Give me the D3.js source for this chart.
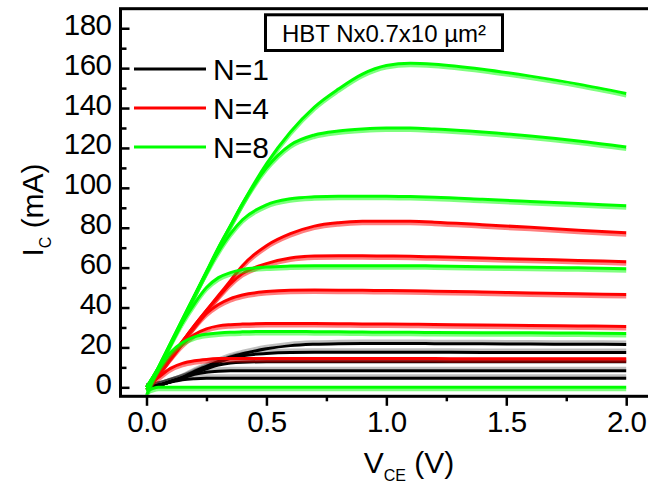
<!DOCTYPE html>
<html><head><meta charset="utf-8">
<script src="https://cdn.jsdelivr.net/npm/d3@7/dist/d3.min.js"></script>
<style>body{margin:0;background:#fff}svg{display:block}</style>
</head><body><svg id="c" width="648" height="483"></svg>
<script>
// ---- data ----
const vce = [0, 0.05, 0.1, 0.15, 0.2, 0.25, 0.3, 0.35, 0.4, 0.5, 0.6, 0.7, 0.8, 0.9, 1.0, 1.1, 1.2, 1.4, 1.6, 1.8, 2.0];

const icN1 = [
  [0, 1, 2.6, 3.8, 4.3, 4.5, 4.5, 4.5, 4.5, 4.5, 4.5, 4.5, 4.5, 4.5, 4.5, 4.5, 4.5, 4.5, 4.5, 4.5, 4.5],
  [0, 1, 2.8, 4.6, 6.5, 7.6, 8.1, 8.3, 8.3, 8.3, 8.3, 8.3, 8.3, 8.3, 8.3, 8.3, 8.3, 8.3, 8.3, 8.3, 8.3],
  [0, 1, 2.8, 4.8, 7, 9.3, 11.2, 12.2, 12.6, 12.8, 12.8, 12.8, 12.8, 12.8, 12.8, 12.8, 12.8, 12.8, 12.8, 12.8, 12.8],
  [0, 1, 2.8, 4.8, 7.5, 10, 12.5, 14.5, 15.8, 17, 17.5, 17.6, 17.6, 17.6, 17.6, 17.6, 17.6, 17.5, 17.5, 17.5, 17.5],
  [0, 1, 2.8, 5, 8, 10.5, 13, 15.2, 16.8, 19.3, 20.9, 21.6, 21.9, 22, 22, 22, 21.9, 21.8, 21.7, 21.6, 21.5]
];
const icN4 = [
  [0, 5, 9.5, 12, 13.3, 14, 14.4, 14.5, 14.5, 14.5, 14.5, 14.5, 14.4, 14.4, 14.4, 14.4, 14.4, 14.3, 14.3, 14.3, 14.3],
  [0, 7, 14.5, 21.5, 26.5, 29.3, 30.8, 31.4, 31.7, 32, 32, 32, 31.9, 31.8, 31.7, 31.6, 31.5, 31.2, 31, 30.8, 30.5],
  [0, 7, 15, 23, 30.5, 37, 41.5, 44.5, 46.3, 48, 48.7, 48.8, 48.7, 48.6, 48.5, 48.4, 48.2, 47.8, 47.3, 46.9, 46.5],
  [0, 7, 15, 23, 31, 38.5, 45.5, 52, 57, 62, 64.8, 65.8, 66, 66, 65.8, 65.7, 65.4, 64.8, 64.2, 63.6, 63],
  [0, 7, 15, 23, 31, 38.5, 46, 53.5, 61, 71, 77, 80.8, 82.5, 83.2, 83.3, 83.2, 82.8, 81.5, 80.2, 78.8, 77.5]
];
const icN8 = [
  [-2, 0, 0, 0, 0, 0, 0, 0, 0, 0, 0, 0, 0, 0, 0, 0, 0, 0, 0, 0, 0],
  [0, 9, 17.5, 22.5, 25.3, 26.6, 27.2, 27.6, 27.8, 28, 28, 27.9, 27.8, 27.7, 27.6, 27.6, 27.5, 27.4, 27.3, 27.2, 27],
  [0, 10, 21.5, 32.5, 42, 50, 55, 57.5, 59, 60.3, 60.8, 61, 61, 61, 61, 61, 60.8, 60.5, 60.2, 59.9, 59.5],
  [0, 10, 22, 34, 46, 57.5, 68, 77, 84, 91.5, 94.5, 95.5, 95.8, 95.8, 95.8, 95.6, 95.3, 94.3, 93.2, 92.1, 91],
  [0, 10, 22, 34, 46, 58, 70, 81, 92, 110, 121.5, 126.5, 128.5, 129.5, 130, 130, 129.5, 128, 126, 123.5, 120.5],
  [-4, 10, 22, 34, 46, 58, 70, 81, 92, 112, 128, 140.5, 149.5, 157, 161.3, 162.5, 162, 159.5, 156, 152, 147.3]
];

const seriesNames = ["N=1", "N=4", "N=8"];
const seriesColors = ["#000000", "#ff0000", "#00ff00"];
const xTicks = [0, 0.5, 1.0, 1.5, 2.0];
const xMinorTicks = [0.25, 0.75, 1.25, 1.75];
const yTicks = [0, 20, 40, 60, 80, 100, 120, 140, 160, 180];
const yMinorTicks = [10, 30, 50, 70, 90, 110, 130, 150, 170];
const titleText = "HBT Nx0.7x10 µm²";

// ---- layout ----
const svg = d3.select("#c");
const FONT = "'Liberation Sans', Arial, Helvetica, sans-serif";
const L = 120.5, T = 8.7, B = 396.3, R = 655;
const x = d3.scaleLinear().domain([-0.1084, 2.12]).range([L, R]);
const y = d3.scaleLinear().domain([-4.5, 189.8]).range([B, T]);

const clipId = "plotclip";
svg.append("clipPath").attr("id", clipId).append("rect")
  .attr("x", L + 1.5).attr("y", T + 1.5).attr("width", R - L).attr("height", B - T - 3);

const plot = svg.append("g").attr("clip-path", `url(#${clipId})`);
const line = d3.line().x(d => x(d[0])).y(d => y(d[1])).curve(d3.curveMonotoneX);

const groups = [icN1, icN4, icN8];
groups.forEach((curves, gi) => {
  const col = seriesColors[gi];
  const g = plot.append("g");
  curves.forEach(vals => {
    const pts = vce.map((v, i) => [v, vals[i]]);
    g.append("path").attr("d", line(pts))
      .attr("fill", "none").attr("stroke", col)
      .attr("stroke-opacity", gi === 0 ? 0.25 : 0.5)
      .attr("stroke-width", 3)
      .attr("transform", `translate(0,${gi === 0 ? -2.5 : 2.5})`);
  });
  curves.forEach(vals => {
    const pts = vce.map((v, i) => [v, vals[i]]);
    g.append("path").attr("d", line(pts))
      .attr("fill", "none").attr("stroke", col).attr("stroke-width", 3);
  });
});

// ---- axes ----
const yAxis = svg.append("g").attr("transform", `translate(${L},0)`)
  .call(d3.axisLeft(y).tickValues(yTicks).tickSize(-9).tickPadding(9).tickFormat(d3.format("d")));
yAxis.select(".domain").remove();
yAxis.selectAll(".tick line").attr("stroke", "#000").attr("stroke-width", 2.5);
yAxis.selectAll(".tick text").attr("font-family", FONT).attr("font-size", 29.5)
  .attr("fill", "#000").attr("dy", null).attr("y", 6).attr("letter-spacing", -0.5);

const yMinor = svg.append("g").attr("transform", `translate(${L},0)`)
  .call(d3.axisLeft(y).tickValues(yMinorTicks).tickSize(-6).tickFormat(""));
yMinor.select(".domain").remove();
yMinor.selectAll(".tick line").attr("stroke", "#000").attr("stroke-width", 2.5);

const xAxis = svg.append("g").attr("transform", `translate(0,${B})`)
  .call(d3.axisBottom(x).tickValues(xTicks).tickSize(9.5).tickPadding(4).tickFormat(d3.format(".1f")));
xAxis.select(".domain").remove();
xAxis.selectAll(".tick line").attr("stroke", "#000").attr("stroke-width", 2.5);
xAxis.selectAll(".tick text").attr("font-family", FONT).attr("font-size", 29.5)
  .attr("fill", "#000").attr("dy", null).attr("y", 35.5).attr("letter-spacing", -0.5);

const xMinor = svg.append("g").attr("transform", `translate(0,${B})`)
  .call(d3.axisBottom(x).tickValues(xMinorTicks).tickSize(5).tickFormat(""));
xMinor.select(".domain").remove();
xMinor.selectAll(".tick line").attr("stroke", "#000").attr("stroke-width", 2.5);

// frame
svg.append("rect").attr("x", L).attr("y", T).attr("width", R - L).attr("height", B - T)
  .attr("fill", "none").attr("stroke", "#000").attr("stroke-width", 3);

// ---- axis titles ----
const xt = svg.append("text").attr("x", 409).attr("y", 473).attr("text-anchor", "middle")
  .attr("font-family", FONT).attr("font-size", 30).attr("fill", "#000");
xt.append("tspan").text("V");
xt.append("tspan").attr("font-size", 16).attr("dy", 8).text("CE");
xt.append("tspan").attr("dy", -8).text(" (V)");

const yt = svg.append("text").attr("transform", "translate(43,210) rotate(-90)")
  .attr("text-anchor", "middle").attr("font-family", FONT).attr("font-size", 30).attr("fill", "#000");
yt.append("tspan").text("I");
yt.append("tspan").attr("font-size", 16).attr("dy", 8).text("C");
yt.append("tspan").attr("dy", -8).text(" (mA)");

// ---- title box ----
svg.append("rect").attr("x", 265.5).attr("y", 14.8).attr("width", 237).attr("height", 35.7)
  .attr("fill", "#fff").attr("stroke", "#000").attr("stroke-width", 3);
svg.append("text").attr("x", 384).attr("y", 42).attr("text-anchor", "middle")
  .attr("font-family", FONT).attr("font-size", 24).attr("fill", "#000").text(titleText);

// ---- legend ----
const leg = svg.append("g");
seriesNames.forEach((name, i) => {
  const ly = 69 + i * 39;
  leg.append("line").attr("x1", 134).attr("x2", 206).attr("y1", ly).attr("y2", ly)
    .attr("stroke", seriesColors[i]).attr("stroke-width", 3);
  leg.append("text").attr("x", 213).attr("y", ly + 10.5)
    .attr("font-family", FONT).attr("font-size", 30).attr("fill", "#000").text(name);
});
</script></body></html>
